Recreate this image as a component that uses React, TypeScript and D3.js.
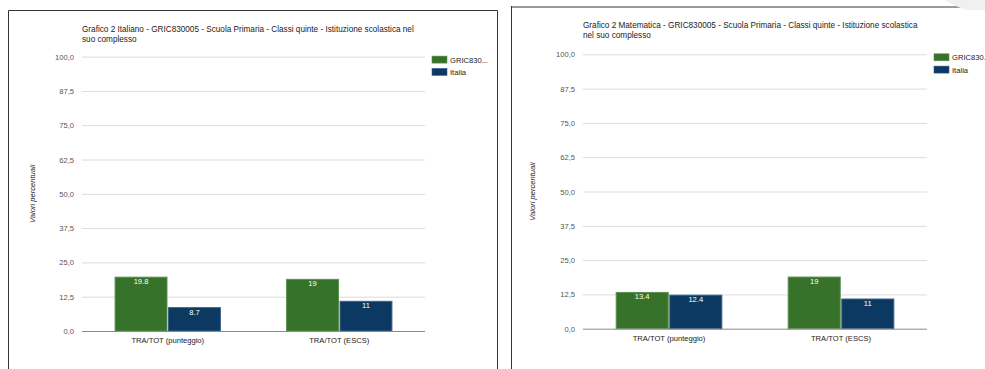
import React from "react";
import * as d3 from "d3";

// Categories, series and tick values
const categories = ["TRA/TOT (punteggio)", "TRA/TOT (ESCS)"];
const seriesNames = ["GRIC830...", "Italia"];
const italianoSchool = [19.8, 19];
const italianoItalia = [8.7, 11];
const matematicaSchool = [13.4, 19];
const matematicaItalia = [12.4, 11];
const yTicks = [0, 12.5, 25, 37.5, 50, 62.5, 75, 87.5, 100];
const titleItaliano = [
  "Grafico 2 Italiano - GRIC830005 - Scuola Primaria - Classi quinte - Istituzione scolastica nel",
  "suo complesso",
];
const titleMatematica = [
  "Grafico 2 Matematica - GRIC830005 - Scuola Primaria - Classi quinte - Istituzione scolastica",
  "nel suo complesso",
];
const yAxisTitle = "Valori percentuali";

const COLORS = ["#37722b", "#0c3961"];
const STROKES = ["#5c8f52", "#3b6189"];
const FONT = "'Liberation Sans', Arial, sans-serif";

type PanelProps = {
  x0: number; // plot left
  x1: number; // plot right
  yTop: number; // y of 100
  yZero: number; // y of 0
  title: string[];
  titleY: number;
  school: number[];
  italia: number[];
  axisTitleX: number;
};

function Panel({ x0, x1, yTop, yZero, title, titleY, school, italia, axisTitleX }: PanelProps) {
  const y = d3.scaleLinear().domain([0, 100]).range([yZero, yTop]);
  const x = d3
    .scaleBand<string>()
    .domain(categories)
    .range([x0, x1])
    .paddingInner(0.38)
    .paddingOuter(0.19);
  const xs = d3
    .scaleBand<string>()
    .domain(seriesNames)
    .range([0, x.bandwidth()])
    .paddingInner(0.01);
  const values = [school, italia];
  const fmt = (v: number) => d3.format(".1f")(v).replace(".", ",");

  return (
    <g>
      {title.map((t, i) => (
        <text key={i} x={x0} y={titleY + i * 10} fontSize={8.2} fill="#222" fontFamily={FONT}>
          {t}
        </text>
      ))}
      {yTicks.map((t) => (
        <g key={t}>
          {t !== 0 && (
            <line x1={x0} x2={x1} y1={y(t) + 0.5} y2={y(t) + 0.5} stroke="#dcdcdc" strokeWidth={1} />
          )}
          <text
            x={x0 - 8}
            y={y(t) + 3}
            textAnchor="end"
            fontSize={7.6}
            fill="#555"
            fontFamily={FONT}
          >
            {fmt(t)}
          </text>
        </g>
      ))}
      <text
        transform={`translate(${axisTitleX},${(yTop + yZero) / 2}) rotate(-90)`}
        textAnchor="middle"
        fontSize={7.6}
        fontStyle="italic"
        fill="#222"
        fontFamily={FONT}
      >
        {yAxisTitle}
      </text>
      {categories.map((c, ci) =>
        seriesNames.map((s, si) => {
          const v = values[si][ci];
          const bx = (x(c) ?? 0) + (xs(s) ?? 0);
          const bw = xs.bandwidth();
          return (
            <g key={c + s}>
              <rect
                x={bx + 0.5}
                y={y(v) + 0.5}
                width={bw - 1}
                height={y(0) - y(v) - 0.5}
                fill={COLORS[si]}
                stroke={STROKES[si]}
                strokeWidth={1}
              />
              <text
                x={bx + bw / 2}
                y={y(v) + 7.5}
                textAnchor="middle"
                fontSize={7.6}
                fill="#ffffff"
                fontFamily={FONT}
              >
                {String(v)}
              </text>
            </g>
          );
        })
      )}
      <line x1={x0} x2={x1} y1={y(0) + 0.5} y2={y(0) + 0.5} stroke="#8a8a8a" strokeWidth={1} />
      {categories.map((c) => (
        <text
          key={c}
          x={(x(c) ?? 0) + x.bandwidth() / 2}
          y={yZero + 12}
          textAnchor="middle"
          fontSize={7.6}
          fill="#222"
          fontFamily={FONT}
        >
          {c}
        </text>
      ))}
      {seriesNames.map((s, i) => (
        <g key={s}>
          <rect x={x1 + 7} y={yTop - 0.5 + i * 12.3} width={15} height={7} fill={COLORS[i]} stroke={STROKES[i]} strokeWidth={0.6} />
          <text x={x1 + 25} y={yTop + 6 + i * 12.3} fontSize={7.6} fill="#222" fontFamily={FONT}>
            {s}
          </text>
        </g>
      ))}
    </g>
  );
}

export default function App() {
  return (
    <svg
      width={985}
      height={369}
      style={{ position: "absolute", left: 0, top: 0, background: "#fff" }}
    >
      {/* left panel frame */}
      <path d="M8.5,369 V10.5 H497.5 V369" fill="none" stroke="#333" strokeWidth={1} />
      {/* right panel frame */}
      <line x1={511} x2={985} y1={7} y2={7} stroke="#9a9a9a" strokeWidth={2} />
      <line x1={511.5} x2={511.5} y1={6} y2={369} stroke="#333" strokeWidth={1} />
      {/* corner shading */}
      <path d="M945,0 H985 V10 H968 Q958,8 945,0 Z" fill="#f0f0f0" />

      <Panel
        x0={82}
        x1={425}
        yTop={56.6}
        yZero={331}
        title={titleItaliano}
        titleY={32}
        school={italianoSchool}
        italia={italianoItalia}
        axisTitleX={35}
      />
      <Panel
        x0={583}
        x1={927}
        yTop={54.3}
        yZero={328.7}
        title={titleMatematica}
        titleY={28}
        school={matematicaSchool}
        italia={matematicaItalia}
        axisTitleX={535}
      />
    </svg>
  );
}
